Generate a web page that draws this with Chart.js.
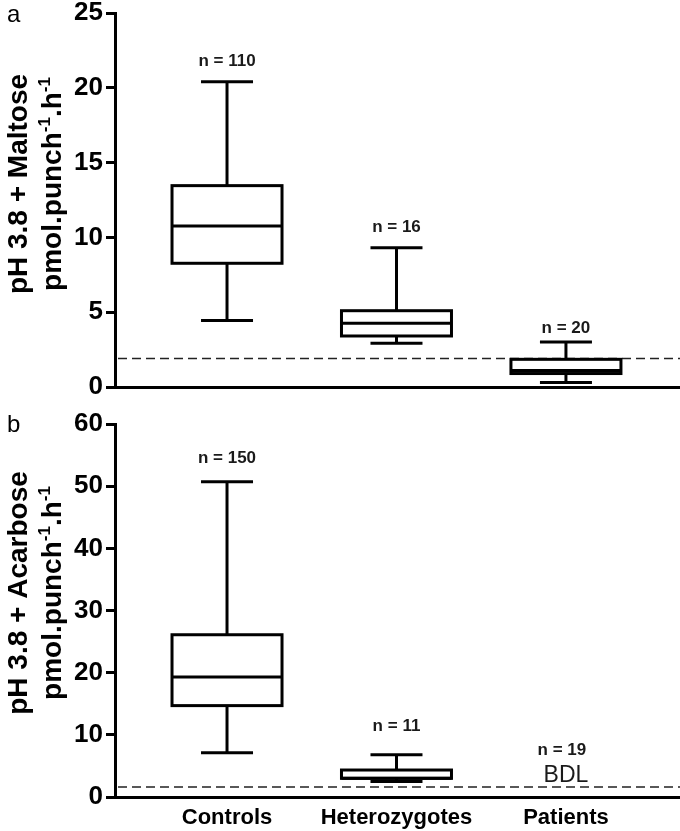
<!DOCTYPE html>
<html>
<head>
<meta charset="utf-8">
<script src="https://cdn.jsdelivr.net/npm/chart.js@4.4.0/dist/chart.umd.min.js"></script>
<style>
  html, body { margin: 0; padding: 0; background: #fff; }
  #wrap { position: relative; width: 680px; height: 831px; }
  canvas { position: absolute; left: 0; display: block; }
  #maltose { top: 0; }
  #acarbose { top: 405px; }
</style>
</head>
<body>
<div id="wrap">
  <canvas id="maltose" width="680" height="405"></canvas>
  <canvas id="acarbose" width="680" height="426"></canvas>
</div>
<script>
const categories = ['Controls', 'Heterozygotes', 'Patients'];

// panel a: pH 3.8 + maltose
const maltoseMin = [4.45, 2.92, 0.3];
const maltoseQ1 = [8.27, 3.41, 0.9];
const maltoseMedian = [10.76, 4.26, 1.1];
const maltoseQ3 = [13.46, 5.1, 1.85];
const maltoseMax = [20.4, 9.31, 3.0];
const maltoseN = [110, 16, 20];
const maltoseCutoff = 1.9;
const maltoseTicks = [0, 5, 10, 15, 20, 25];

// panel b: pH 3.8 + acarbose (patients below detection limit)
const acarboseMin = [7.1, 2.5, null];
const acarboseQ1 = [14.7, 3.0, null];
const acarboseMedian = [19.3, 3.0, null];
const acarboseQ3 = [26.1, 4.34, null];
const acarboseMax = [50.7, 6.8, null];
const acarboseN = [150, 11, 19];
const acarboseCutoff = 1.6;
const acarboseTicks = [0, 10, 20, 30, 40, 50, 60];

const family = '"Liberation Sans", Arial, Helvetica, sans-serif';

function drawLine(ctx, x1, y1, x2, y2) {
  ctx.beginPath();
  ctx.moveTo(x1, y1);
  ctx.lineTo(x2, y2);
  ctx.stroke();
}

// whiskers, medians, box outlines, n labels, cutoff line and axis title
function boxPlot(p) {
  return {
    id: 'boxPlot',
    beforeDatasetsDraw(chart) {
      const {ctx, chartArea, scales: {y}} = chart;
      const py = y.getPixelForValue(p.cutoff);
      ctx.save();
      ctx.strokeStyle = '#222';
      ctx.lineWidth = 1.5;
      ctx.setLineDash([9, 5]);
      drawLine(ctx, chartArea.left + 3, py, chartArea.right, py);
      ctx.restore();
    },
    afterDatasetsDraw(chart) {
      const {ctx, scales: {x, y}} = chart;
      const meta = chart.getDatasetMeta(0);
      const raw = chart.data.datasets[0].data;
      ctx.save();
      ctx.strokeStyle = '#000';
      ctx.lineWidth = 3;
      meta.data.forEach((bar, k) => {
        const i = raw[k].x;
        const cx = bar.x, half = bar.width / 2;
        const top = Math.min(bar.y, bar.base), bottom = Math.max(bar.y, bar.base);
        const pMax = y.getPixelForValue(p.max[i]);
        const pMin = y.getPixelForValue(p.min[i]);
        const pMed = y.getPixelForValue(p.median[i]);
        drawLine(ctx, cx, top, cx, pMax);
        drawLine(ctx, cx, bottom, cx, pMin);
        drawLine(ctx, cx - 26, pMax, cx + 26, pMax);
        drawLine(ctx, cx - 26, pMin, cx + 26, pMin);
        ctx.strokeRect(cx - half, top, bar.width, bottom - top);
        drawLine(ctx, cx - half, pMed, cx + half, pMed);
      });
      ctx.fillStyle = '#1a1a1a';
      ctx.textAlign = 'center';
      ctx.textBaseline = 'middle';
      ctx.font = 'bold 17px ' + family;
      categories.forEach((c, i) => {
        const cx = x.getPixelForValue(i);
        if (p.max[i] == null) {
          const pc = y.getPixelForValue(p.cutoff);
          ctx.fillText('n = ' + p.n[i], cx - 4, pc - 37);
          ctx.font = '23px ' + family;
          ctx.fillText('BDL', cx, pc - 11);
          ctx.font = 'bold 17px ' + family;
        } else {
          ctx.fillText('n = ' + p.n[i], cx, y.getPixelForValue(p.max[i]) - p.nGap[i]);
        }
      });
      ctx.restore();
    },
    afterDraw(chart) {
      const {ctx} = chart;
      ctx.save();
      ctx.fillStyle = '#000';
      ctx.textAlign = 'left';
      ctx.textBaseline = 'alphabetic';
      ctx.font = '24px ' + family;
      ctx.fillText(p.letter, 7, p.letterY);
      const mainFont = 'bold 28px ' + family;
      const supFont = 'bold 17px ' + family;
      p.title.forEach(line => {
        ctx.save();
        ctx.translate(line.x, p.titleY);
        ctx.rotate(-Math.PI / 2);
        let total = 0;
        line.parts.forEach(([t, sup]) => {
          ctx.font = sup ? supFont : mainFont;
          total += ctx.measureText(t).width;
        });
        let pos = -total / 2;
        line.parts.forEach(([t, sup]) => {
          ctx.font = sup ? supFont : mainFont;
          ctx.fillText(t, pos, sup ? -11 : 0);
          pos += ctx.measureText(t).width;
        });
        ctx.restore();
      });
      ctx.restore();
    }
  };
}

function makePanel(id, p) {
  const boxes = [];
  categories.forEach((c, i) => {
    if (p.q1[i] != null) boxes.push({x: i, y: [p.q1[i], p.q3[i]]});
  });
  return new Chart(document.getElementById(id), {
    type: 'bar',
    data: {
      datasets: [{
        data: boxes,
        backgroundColor: '#fff',
        borderWidth: 0,
        barThickness: 110
      }]
    },
    plugins: [boxPlot(p)],
    options: {
      responsive: false,
      animation: false,
      events: [],
      layout: { autoPadding: false, padding: { top: p.padTop, left: 0, right: 0, bottom: 0 } },
      plugins: { legend: { display: false }, tooltip: { enabled: false } },
      scales: {
        x: {
          type: 'linear',
          offset: false,
          min: -0.661,
          max: 2.673,
          afterBuildTicks: s => { s.ticks = categories.map((c, i) => ({ value: i })); },
          ticks: {
            display: p.showCategories,
            autoSkip: false,
            maxRotation: 0,
            padding: 8,
            color: '#000',
            font: { family: family, size: 22, weight: 'bold' },
            callback: v => categories[v]
          },
          grid: { drawOnChartArea: false, drawTicks: false },
          border: { color: '#000', width: 3 },
          afterFit: s => { s.height = p.xHeight; s.paddingLeft = 0; s.paddingRight = 0; }
        },
        y: {
          min: 0,
          max: p.ticks[p.ticks.length - 1],
          afterBuildTicks: s => { s.ticks = p.ticks.map(v => ({ value: v })); },
          ticks: {
            color: '#000',
            padding: 3,
            font: { family: family, size: 26, weight: 'bold' }
          },
          grid: { drawOnChartArea: false, tickLength: 9, tickWidth: 3, tickColor: '#000' },
          border: { color: '#000', width: 3 },
          afterFit: s => { s.width = 115; s.paddingTop = 0; s.paddingBottom = 0; }
        }
      }
    }
  });
}

makePanel('maltose', {
  min: maltoseMin, q1: maltoseQ1, median: maltoseMedian, q3: maltoseQ3, max: maltoseMax,
  n: maltoseN, cutoff: maltoseCutoff, ticks: maltoseTicks,
  nGap: [21, 20, 14],
  padTop: 13, xHeight: 18, showCategories: false,
  letter: 'a', letterY: 22, titleY: 184,
  title: [
    { x: 27, parts: [['pH 3.8 + Maltose']] },
    { x: 61, parts: [['pmol.punch'], ['-1', true], ['.h'], ['-1', true]] }
  ]
});

makePanel('acarbose', {
  min: acarboseMin, q1: acarboseQ1, median: acarboseMedian, q3: acarboseQ3, max: acarboseMax,
  n: acarboseN, cutoff: acarboseCutoff, ticks: acarboseTicks,
  nGap: [24, 28, 0],
  padTop: 19, xHeight: 34, showCategories: true,
  letter: 'b', letterY: 27, titleY: 188,
  title: [
    { x: 27, parts: [['pH 3.8 + Acarbose']] },
    { x: 61, parts: [['pmol.punch'], ['-1', true], ['.h'], ['-1', true]] }
  ]
});
</script>
</body>
</html>
